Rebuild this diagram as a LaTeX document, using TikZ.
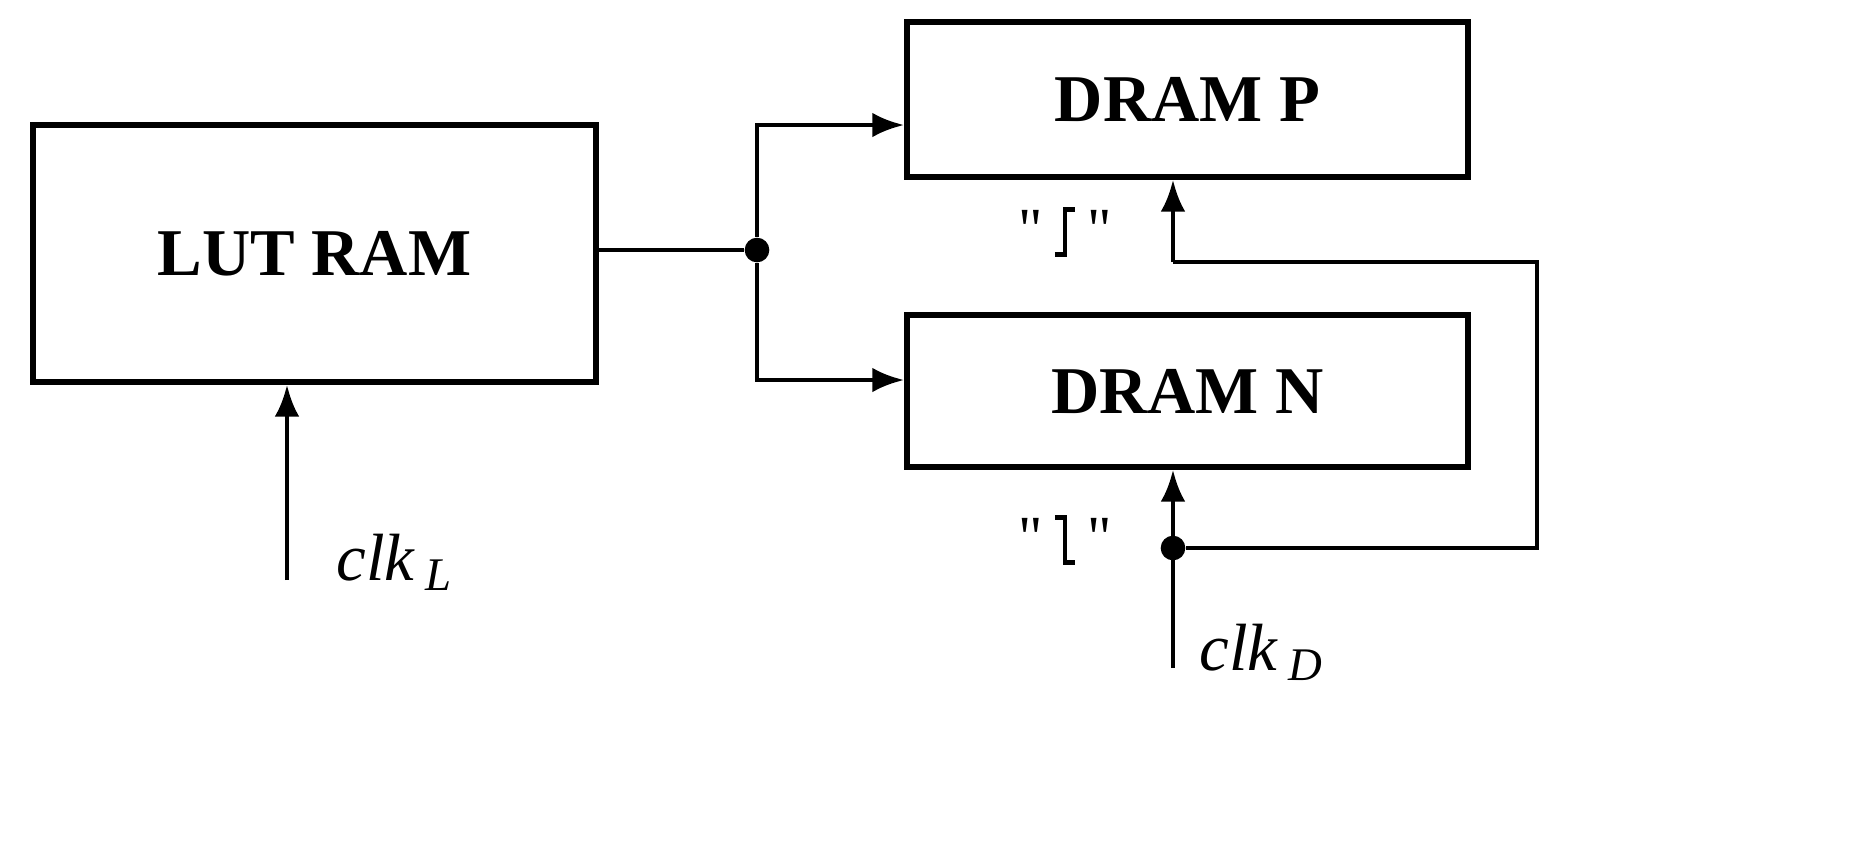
\documentclass[tikz,border=0pt]{standalone}
\usepackage{fontspec}
\setmainfont{Liberation Serif}
\usetikzlibrary{arrows.meta}
\begin{document}
\begin{tikzpicture}[x=0.01cm,y=-0.01cm,
  box/.style={draw,line width=1.6pt,inner sep=0pt,font=\fontsize{19}{22}\selectfont\bfseries},
  wire/.style={line width=1.3pt},
  arr/.style={wire,-{Latex[length=9pt,width=7pt]}},
  dot/.style={circle,fill,inner sep=0pt,minimum size=7pt},
  lbl/.style={font=\fontsize{19}{22}\selectfont\itshape},
  q/.style={font=\fontsize{17}{20}\selectfont}]
\useasboundingbox (0,0) rectangle (1859,847);
\node[box,minimum width=5.63cm,minimum height=2.57cm] (lut) at (314.5,253.5) {LUT RAM};
\node[box,minimum width=5.61cm,minimum height=1.55cm] (p) at (1187.5,99.5) {DRAM P};
\node[box,minimum width=5.61cm,minimum height=1.52cm] (n) at (1187.5,391) {DRAM N};
\node[dot] (j1) at (757,250) {};
\node[dot] (j2) at (1173,548) {};
\coordinate (cl) at (287,580);
\coordinate (cd) at (1173,668);
\coordinate (r1) at (1537,548);
\coordinate (r2) at (1537,262);
\coordinate (r3) at (1173,262);
\draw[wire] (lut.east |- j1) -- (j1);
\draw[arr] (j1) |- (p.west |- 0,125);
\draw[arr] (j1) |- (n.west |- 0,380);
\draw[arr] (cl) -- (lut.south -| cl);
\draw[arr] (cd) -- (n.south -| cd);
\draw[wire] (j2) -- (r1) -- (r2) -- (r3);
\draw[arr] (r3) -- (p.south -| r3);
\node[lbl] (lclk) at (395,562) {clk\,$_{\mathit{L}}$};
\node[lbl] (dclk) at (1262,652) {clk\,$_{\mathit{D}}$};
\node[q] (qp) at (1065,232) {\textquotedbl\,\tikz[baseline=0pt,x=1cm,y=1cm]\draw[line width=1.2pt] (-0.1,-0.05)--(0,-0.05)--(0,0.4)--(0.1,0.4);\,\textquotedbl};
\node[q] (qn) at (1065,540) {\textquotedbl\,\tikz[baseline=0pt,x=1cm,y=1cm]\draw[line width=1.2pt] (-0.1,0.4)--(0,0.4)--(0,-0.05)--(0.1,-0.05);\,\textquotedbl};
\end{tikzpicture}
\end{document}
